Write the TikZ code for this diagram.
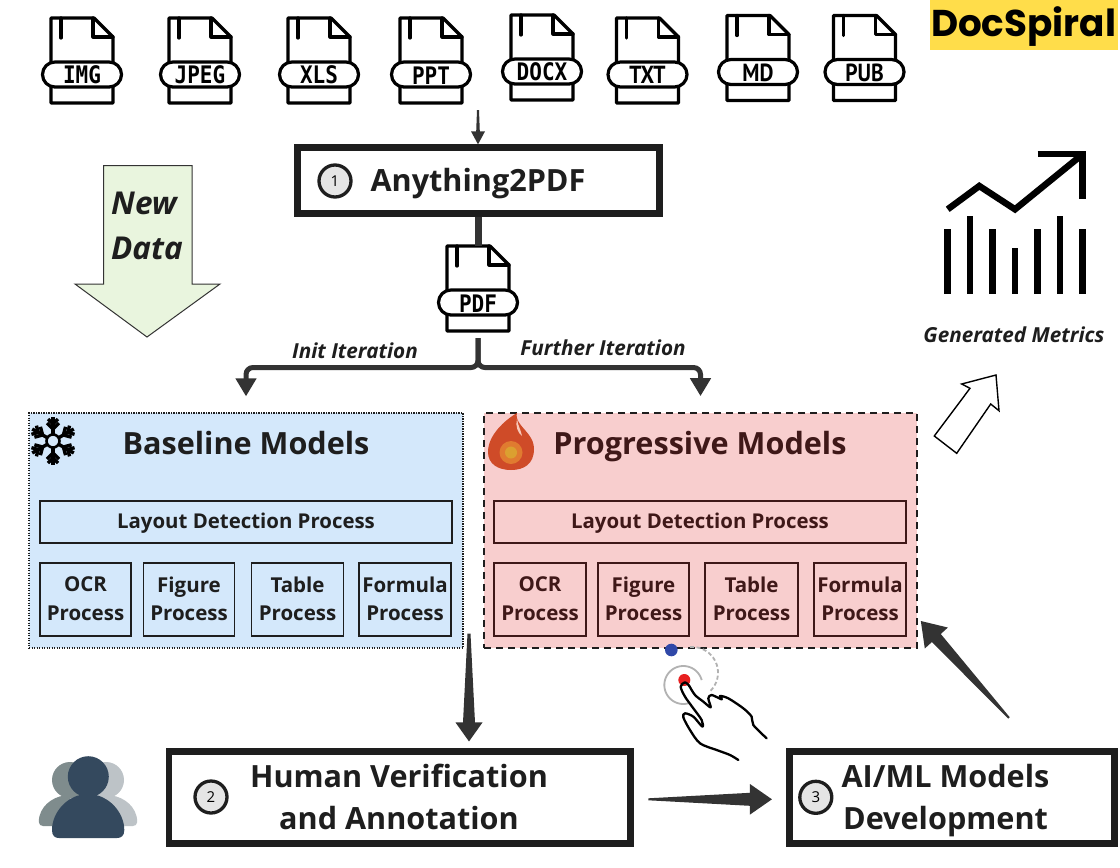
\documentclass[tikz,border=0pt]{standalone}
\usepackage{fontspec}
\setmainfont{Open Sans}
\newfontfamily\iconfont{DejaVu Sans Mono}
\newfontfamily\iconalt{PT Sans}
\newfontfamily\logofont{Poppins}
\usetikzlibrary{arrows.meta,calc}
\definecolor{ink}{HTML}{1E1E1E}
\definecolor{conn}{HTML}{333333}
\definecolor{basefill}{HTML}{D4E8FB}
\definecolor{progfill}{HTML}{F8CECE}
\definecolor{maroon}{HTML}{3F1818}
\definecolor{newfill}{HTML}{E9F5DE}
\definecolor{logofill}{HTML}{FFDD4A}
\tikzset{
  x=1pt,y=-1pt,
  heavybox/.style={draw=ink,line width=6.7pt,fill=white,inner sep=0pt},
  numdot/.style={circle,draw=ink,line width=3.3pt,fill=black!10,minimum size=32pt,inner sep=0pt,font=\fontsize{15}{15}\selectfont},
  bigtitle/.style={font=\fontsize{30.6}{42}\selectfont\bfseries,text=ink,align=center,inner sep=0pt},
  paneltitle/.style={font=\fontsize{30.6}{34}\selectfont\bfseries,inner sep=0pt,anchor=base},
  procbox/.style={draw,line width=1.7pt,inner sep=0pt,align=center,text depth=2pt,font=\fontsize{20.5}{28.5}\selectfont\bfseries},
  laybox/.style={draw,line width=1.7pt,inner sep=0pt,text depth=3pt,font=\fontsize{20.4}{24}\selectfont\bfseries},
  branchlabel/.style={font=\fontsize{20.7}{24}\selectfont\bfseries\itshape,text=ink,inner sep=0pt},
  filebody/.style={line width=3.2pt,line join=round,line cap=round,draw=black},
  feed/.style={draw=conn,-{Triangle[length=18pt,width=20pt]}},
}
\newcommand\fileicon[5]{%
  \begin{scope}[shift={(#2,#3)}]
    \node[minimum width=62pt,minimum height=85pt,inner sep=0pt] (#1) at (0,42.5) {};
    \draw[filebody,fill=white] (-31,0) -- (12,0) -- (31,19) -- (31,85) -- (-31,85) -- cycle;
    \draw[filebody] (11,0) -- (11,19) -- (31,19);
    \draw[filebody] (-21,0) -- (-21,20);
    \draw[filebody,fill=white,rounded corners=12.4pt] (-39.5,44) rectangle (39.5,69);
    \node[inner sep=0pt] (#1label) at (0,57.2) {\scalebox{1}[1.15]{#5{#4}}};
  \end{scope}}
\newcommand\monolabel[1]{\iconfont\fontsize{21}{21}\selectfont\bfseries #1}
\newcommand\altlabel[1]{\iconalt\fontsize{21.5}{21}\selectfont\bfseries #1}
% taper{tail}{tip}{half width at tail}{half width at head base}{head length}{head half width}
\newcommand\taper[6]{%
  \coordinate (tpB) at ($(#2)!#5!(#1)$);
  \fill[conn] ($(#1)!#3!-90:(#2)$) -- ($(tpB)!#4!-90:(#2)$) -- ($(tpB)!#6!-90:(#2)$) -- (#2)
     -- ($(tpB)!#6!90:(#2)$) -- ($(tpB)!#4!90:(#2)$) -- ($(#1)!#3!90:(#2)$) -- cycle;}
\begin{document}
\begin{tikzpicture}
\useasboundingbox (0,0) rectangle (1120,868);
\fill[white] (0,0) rectangle (1120,868);

% source icons
\fileicon{img}{82}{18}{IMG}{\monolabel}
\fileicon{jpeg}{200}{18}{JPEG}{\monolabel}
\fileicon{xls}{319}{18}{XLS}{\monolabel}
\fileicon{ppt}{431}{18}{PPT}{\monolabel}
\fileicon{docx}{542}{15}{DOCX}{\monolabel}
\fileicon{txt}{647.5}{18}{TXT}{\altlabel}
\fileicon{md}{758}{15.5}{MD}{\altlabel}
\fileicon{pub}{864.5}{15.5}{PUB}{\altlabel}

% logo
\node[fill=logofill,minimum width=188pt,minimum height=50pt,inner sep=0pt] (logobg) at (1024,25) {};
\node[inner sep=0pt,text=black] (logo) at (1023.5,27) {\logofont\fontsize{37.3}{38}\selectfont\bfseries DocSpiral};

% step 1
\node[heavybox,minimum width=362.4pt,minimum height=66pt] (a2p) at (478.5,180.7) {};
\node[bigtitle,anchor=base] (a2pt) at (478,191) {Anything2PDF};
\node[numdot] (n1) at (335,181) {1};
\coordinate (srcfeed) at (478,110);
\coordinate (a2ptop) at (a2p.north -| srcfeed);
\taper{srcfeed}{a2ptop}{1pt}{1.8pt}{13pt}{7pt}

% PDF
\fileicon{pdf}{478}{246}{PDF}{\monolabel}
\draw[conn,line width=7pt] (a2p.south -| pdf.north) -- (pdf.north);

% New Data arrow
\draw[draw=conn,line width=1pt,fill=newfill] (103.6,165.6) -- (192,165.6) -- (192,284) -- (220,284) -- (147,337) -- (75,284) -- (103.6,284) -- cycle;
\node[font=\fontsize{31.5}{32}\selectfont\bfseries\itshape,text=ink,inner sep=0pt] (newlbl) at (144,203) {New};
\node[font=\fontsize{31.5}{32}\selectfont\bfseries\itshape,text=ink,inner sep=0pt] (datalbl) at (147,248) {Data};

% panels
\node[draw=ink,fill=basefill,line width=1.3pt,dash pattern=on 1.3pt off 1.2pt,minimum width=434pt,minimum height=235pt,inner sep=0pt] (base) at (246,530.5) {};
\node[draw=ink,fill=progfill,line width=1.7pt,dash pattern=on 7pt off 5pt,minimum width=433pt,minimum height=235pt,inner sep=0pt] (prog) at (700.5,530.5) {};

\draw[feed,line width=5pt,rounded corners=7pt,shorten <=7pt,shorten >=16pt] (pdf.south) -- (478,367.5) -- (base.north |- 478,367.5) -- (base.north);
\draw[feed,line width=5pt,rounded corners=7pt,shorten <=7pt,shorten >=16pt] (pdf.south) -- (478,367.5) -- (prog.north |- 478,367.5) -- (prog.north);
\node[branchlabel] (initl) at (355,350.5) {Init Iteration};
\node[branchlabel] (furtherl) at (603,347.5) {Further Iteration};

% baseline contents
\node[paneltitle,text=ink] (baset) at (246,454.5) {Baseline Models};
\begin{scope}[every node/.style={draw=ink,text=ink}]
\node[laybox,minimum width=412pt,minimum height=42pt] (blay) at (246,522) {Layout Detection Process};
\node[procbox,minimum width=91pt,minimum height=73pt] (bocr) at (85.5,599.5) {OCR\\Process};
\node[procbox,minimum width=91pt,minimum height=73pt] (bfig) at (189,599.5) {Figure\\Process};
\node[procbox,minimum width=92pt,minimum height=73pt] (btab) at (297.5,599.5) {Table\\Process};
\node[procbox,minimum width=92pt,minimum height=73pt] (bfor) at (405,599.5) {Formula\\Process};
\end{scope}
% snowflake
\begin{scope}[shift={(53,441)},line width=3.4pt]
\foreach \a in {30,90,150,210,270,330}{
  \begin{scope}[rotate=\a]
    \draw (6,0) -- (24,0);
    \draw (12,0) -- (18,-6);
    \draw (12,0) -- (18,6);
    \draw (17,0) -- (22,-5);
    \draw (17,0) -- (22,5);
  \end{scope}}
\draw[line width=2.6pt] (0,0) circle[radius=6.5pt];
\end{scope}

% progressive contents
\node[paneltitle,text=maroon] (progt) at (700,454.5) {Progressive Models};
\begin{scope}[every node/.style={draw=maroon,text=maroon}]
\node[laybox,minimum width=412pt,minimum height=42pt] (play) at (700,522) {Layout Detection Process};
\node[procbox,minimum width=92pt,minimum height=73pt] (pocr) at (540,599.5) {OCR\\Process};
\node[procbox,minimum width=91pt,minimum height=73pt] (pfig) at (643.5,599.5) {Figure\\Process};
\node[procbox,minimum width=93pt,minimum height=73pt] (ptab) at (751.5,599.5) {Table\\Process};
\node[procbox,minimum width=92pt,minimum height=73pt] (pfor) at (860,599.5) {Formula\\Process};
\end{scope}
% flame
\fill[fill={rgb,255:red,207;green,75;blue,40}] (517,413) .. controls (505,420) and (488,435) .. (488,452) .. controls (488,464) and (498,470) .. (511,470) .. controls (524,470) and (534,464) .. (534,449) .. controls (534,438) and (526,432) .. (520,424) .. controls (517,420) and (516,416) .. (517,413) -- cycle;
\fill[fill={rgb,255:red,247;green,200;blue,185}] (517,419) .. controls (515,426) and (518,433) .. (522,436) .. controls (521,430) and (518,426) .. (517,419) -- cycle;
\fill[fill={rgb,255:red,224;green,123;blue,48}] (511,452.5) circle[radius=11.5pt];
\fill[fill={rgb,255:red,219;green,160;blue,48}] (511,452.5) circle[radius=6pt];

% metrics
\draw[line width=6.5pt,line join=miter] (947.7,209.3) -- (979.3,186) -- (1015,209.3) -- (1081.7,155);
\draw[line width=6.5pt,line join=miter] (1037.7,154) -- (1082.3,154) -- (1082.3,199.3);
\foreach \x/\t in {947.7/229,970/216,992.3/229,1015/248.3,1037.3/229,1060/216,1082.3/229}
  \fill (\x-3.25,\t) rectangle (\x+3.25,294);
\node[branchlabel] (metl) at (1014,334.5) {Generated Metrics};
\draw[line width=1.4pt,fill=white,line join=miter] (934.3,436) -- (956.7,453.3) -- (990.7,404) -- (999,410.7) -- (996,375) -- (961.7,384) -- (970,388.3) -- cycle;

% steps 2 and 3
\node[heavybox,minimum width=461.6pt,minimum height=92pt] (hum) at (399.8,797.3) {};
\node[bigtitle,text depth=0pt] (humt) at (399,797) {Human Verification\\and Annotation};
\node[numdot] (n2) at (211,797) {2};
\node[heavybox,minimum width=325.4pt,minimum height=92pt] (ai) at (952,797.3) {};
\node[bigtitle,text depth=0pt] (ait) at (945.5,797) {AI/ML Models\\Development};
\node[numdot] (n3) at (815.8,797.3) {3};

% tapered connectors
\coordinate (dnA) at ($(base.south)+(223,-15)$);
\coordinate (dnB) at ($(hum.north)+(69.2,-6.5)$);
\taper{dnA}{dnB}{1.5pt}{6pt}{19pt}{13.5pt}
\coordinate (acA) at ($(hum.east)+(14.5,2)$);
\coordinate (acB) at ($(ai.west)+(-14,2)$);
\taper{acA}{acB}{1pt}{6.5pt}{22pt}{15.3pt}
\coordinate (upA) at ($(ai.north)+(57,-30)$);
\coordinate (upB) at ($(prog.east)+(3,90.5)$);
\taper{upA}{upB}{1pt}{6pt}{23pt}{15.6pt}

% people
\fill[fill={rgb,255:red,189;green,195;blue,199}] (106,780) circle[radius=18pt];
\fill[fill={rgb,255:red,189;green,195;blue,199}] (100,826) -- (133,826) .. controls (138,826) and (137.5,820) .. (136.5,816) .. controls (133,803) and (120,795) .. (106,795) -- cycle;
\fill[fill={rgb,255:red,127;green,140;blue,141}] (70,780) circle[radius=18pt];
\fill[fill={rgb,255:red,127;green,140;blue,141}] (76,826) -- (43,826) .. controls (38,826) and (38.5,820) .. (39.5,816) .. controls (43,803) and (56,795) .. (70,795) -- cycle;
\fill[fill={rgb,255:red,52;green,73;blue,94}] (88.3,776.7) circle[radius=20.5pt];
\fill[fill={rgb,255:red,52;green,73;blue,94}] (88,794) .. controls (68,794) and (52,812) .. (52,830) .. controls (52,836) and (55,838) .. (59,838) -- (117,838) .. controls (121,838) and (124.3,836) .. (124.3,830) .. controls (124.3,812) and (108,794) .. (88,794) -- cycle;

% hand gesture
\begin{scope}[shift={(640,630)},x=0.3333pt,y=-0.3333pt]
\draw[black!30,line width=1.8pt,dash pattern=on 4pt off 2.5pt] plot[domain=95:-48,samples=40,smooth] ({157+77*cos(\x)},{128-77*sin(\x)});
\draw[black!30,line width=1.8pt] plot[domain=15:285,samples=50,smooth] ({130+57*cos(\x)},{165-57*sin(\x)});
\fill[fill={rgb,255:red,48;green,72;blue,168}] (94,60) circle[radius=6.3pt];
\fill[fill={rgb,255:red,232;green,32;blue,32}] (133,150) circle[radius=6pt];
\draw[line width=2.3pt,line join=round,line cap=round] plot[smooth,tension=0.5] coordinates {(148,168) (135,157) (122,170) (135,200) (160,235) (185,270) (187,290) (160,260) (135,250) (130,262) (150,300) (180,340) (230,360) (270,375) (295,390)};
\draw[line width=2.3pt,line join=round,line cap=round] plot[smooth,tension=0.5] coordinates {(148,168) (165,195) (190,215) (212,232) (205,205) (215,195) (245,208) (240,198) (265,205) (310,235) (335,260) (340,285) (380,325)};
\end{scope}
\end{tikzpicture}
\end{document}
